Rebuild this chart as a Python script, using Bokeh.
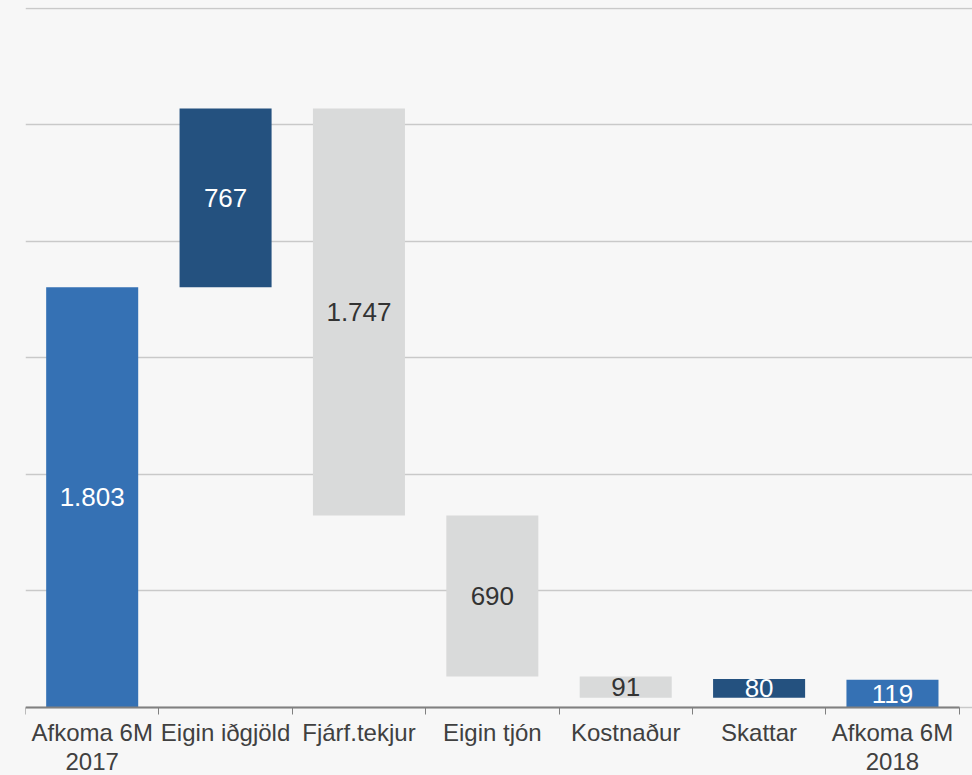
from bokeh.plotting import figure
from bokeh.models import Range1d, FixedTicker, ColumnDataSource
from bokeh.core.properties import value
from bokeh.embed import file_html
from bokeh.resources import INLINE
from jinja2 import Template

# ---- data ----
categories = ["Afkoma 6M\n2017", "Eigin iðgjöld", "Fjárf.tekjur", "Eigin tjón",
              "Kostnaður", "Skattar", "Afkoma 6M\n2018"]
changes = [1803, 767, -1747, -690, -91, 80, 119]
kinds = ["total", "inc", "dec", "dec", "dec", "inc", "total"]
grid_ticks = [0, 500, 1000, 1500, 2000, 2500, 3000]

# ---- styles ----
BG = "#f7f7f7"
colors = {"total": "#3571b4", "inc": "#24517f", "dec": "#d9dada"}
label_colors = {"total": "white", "inc": "white", "dec": "#333333"}

# ---- waterfall geometry from data ----
bottoms, tops = [], []
running = 0
for c, k in zip(changes, kinds):
    if k == "total":
        b, t = 0, c
        running = c
    else:
        b, t = running, running + c
        running = running + c
    bottoms.append(min(b, t))
    tops.append(max(b, t))

xs = [i + 0.5 for i in range(len(categories))]
src = ColumnDataSource(dict(
    x=xs, bottom=bottoms, top=tops,
    mid=[(b + t) / 2 for b, t in zip(bottoms, tops)],
    color=[colors[k] for k in kinds],
    lcolor=[label_colors[k] for k in kinds],
    label=[f"{abs(c):,}".replace(",", ".") for c in changes],
))

W, H = 972, 775
# plot frame runs to the bottom edge; the category axis sits at y=0 inside it
p = figure(width=W, height=H, output_backend="svg", toolbar_location=None,
           x_range=Range1d(0, 7.1), y_range=Range1d(-292, 3003),
           min_border_left=25, min_border_right=0, min_border_top=7,
           min_border_bottom=0)
p.background_fill_color = BG
p.border_fill_color = BG
p.outline_line_color = None

p.vbar(x="x", bottom="bottom", top="top", width=0.69, color="color",
       line_color=None, source=src)
p.text(x="x", y="mid", text="label", text_color="lcolor", source=src,
       text_align="center", text_baseline="middle",
       text_font=value("Liberation Sans"), text_font_size="26px")

# grid
p.xgrid.visible = False
p.ygrid.ticker = FixedTicker(ticks=grid_ticks)
p.ygrid.grid_line_color = "#c9c9c9"
p.ygrid.grid_line_width = 1.5
p.yaxis.visible = False

# x axis
ax = p.xaxis[0]
ax.fixed_location = 0
ax.ticker = FixedTicker(ticks=xs, minor_ticks=list(range(len(categories) + 1)))
ax.major_label_overrides = {x: c for x, c in zip(xs, categories)}
ax.bounds = (0, len(categories))
ax.axis_line_color = "#808080"
ax.axis_line_width = 2
ax.major_tick_in = 0
ax.major_tick_out = 0
ax.minor_tick_in = 0
ax.minor_tick_out = 7
ax.minor_tick_line_color = "#808080"
ax.minor_tick_line_width = 1
ax.major_label_text_font = "Liberation Sans"
ax.major_label_text_font_size = "24px"
ax.major_label_text_color = "#404040"
ax.major_label_standoff = 5
ax.major_label_text_line_height = 1.05

tmpl = Template("""{% extends base %}
{% block preamble %}<style>html, body { background: #f7f7f7; }</style>{% endblock %}""")

open("out.html", "w").write(file_html(p, INLINE, template=tmpl))
